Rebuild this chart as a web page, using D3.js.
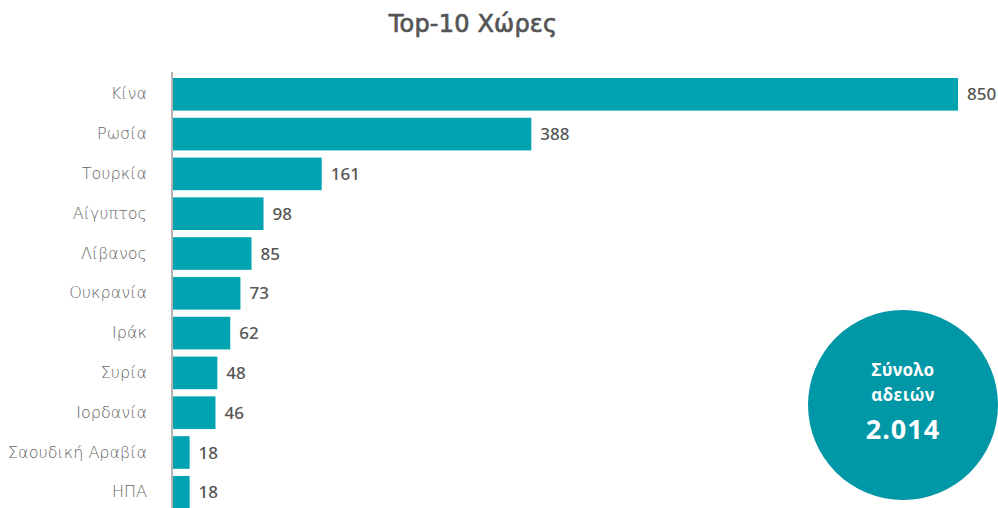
<!DOCTYPE html>
<html>
<head>
<meta charset="utf-8">
<script src="https://cdn.jsdelivr.net/npm/d3@7"></script>
<style>
  html, body { margin: 0; padding: 0; background: #fff; }
  svg { display: block; font-family: "Noto Sans", "Open Sans", sans-serif; }
</style>
</head>
<body>
<svg id="chart" width="998" height="508"></svg>
<script>
// Permits by country, top ten
const countries = ["Κίνα", "Ρωσία", "Τουρκία", "Αίγυπτος", "Λίβανος", "Ουκρανία", "Ιράκ", "Συρία", "Ιορδανία", "Σαουδική Αραβία", "ΗΠΑ"];
const permits = [850, 388, 161, 98, 85, 73, 62, 48, 46, 18, 18];
const totalLabel = ["Σύνολο", "αδειών"];
const totalValue = "2.014";
const title = "Top-10 Χώρες";

const svg = d3.select("#chart");
const left = 173;

const x = d3.scaleLinear().domain([0, 850]).range([left, 958]);
const y = d3.scaleBand().domain(countries).range([74.4, 512.2]).paddingInner(0.18).paddingOuter(0.09);

// Title
svg.append("text")
  .attr("x", 473).attr("y", 32)
  .attr("text-anchor", "middle")
  .attr("font-family", "'DejaVu Sans', sans-serif")
  .attr("font-size", 24)
  .attr("letter-spacing", 0.2)
  .attr("fill", "#555").attr("stroke", "#555").attr("stroke-width", 0.7)
  .text(title);

// Bars
svg.append("g").selectAll("rect")
  .data(countries)
  .join("rect")
  .attr("x", x(0))
  .attr("y", d => y(d))
  .attr("width", (d, i) => x(permits[i]) - x(0))
  .attr("height", y.bandwidth())
  .attr("fill", "#00A3B0");

// Category axis
const axis = svg.append("g")
  .attr("transform", `translate(${left - 1},0)`)
  .call(d3.axisLeft(y).tickSize(0).tickPadding(25));
axis.select(".domain").remove();
axis.append("line")
  .attr("x1", 0).attr("x2", 0).attr("y1", 72).attr("y2", 508)
  .attr("stroke", "#b3b3b3").attr("stroke-width", 2);
axis.selectAll("text")
  .attr("font-size", 16).attr("font-weight", 200)
  .attr("fill", "#666")
  .attr("font-family", "'DejaVu Sans', sans-serif");

// Value labels
svg.append("g").selectAll("text")
  .data(countries)
  .join("text")
  .attr("x", (d, i) => x(permits[i]) + 9)
  .attr("y", d => y(d) + y.bandwidth() / 2)
  .attr("dy", "0.36em")
  .attr("font-size", 17).attr("font-weight", 500)
  .attr("fill", "#555")
  .text((d, i) => permits[i]);

// Total badge
const badge = svg.append("g").attr("transform", "translate(903,405)");
badge.append("circle").attr("r", 95).attr("fill", "#0097A7");
badge.selectAll("text.lbl")
  .data(totalLabel)
  .join("text")
  .attr("class", "lbl")
  .attr("y", (d, i) => -29 + i * 25)
  .attr("text-anchor", "middle")
  .attr("font-size", 17).attr("font-weight", 700)
  .attr("letter-spacing", 0.5)
  .attr("fill", "#fff")
  .text(d => d);
badge.append("text")
  .attr("y", 34)
  .attr("text-anchor", "middle")
  .attr("font-size", 27).attr("font-weight", 700)
  .attr("letter-spacing", 1)
  .attr("fill", "#fff")
  .text(totalValue);
</script>
</body>
</html>
